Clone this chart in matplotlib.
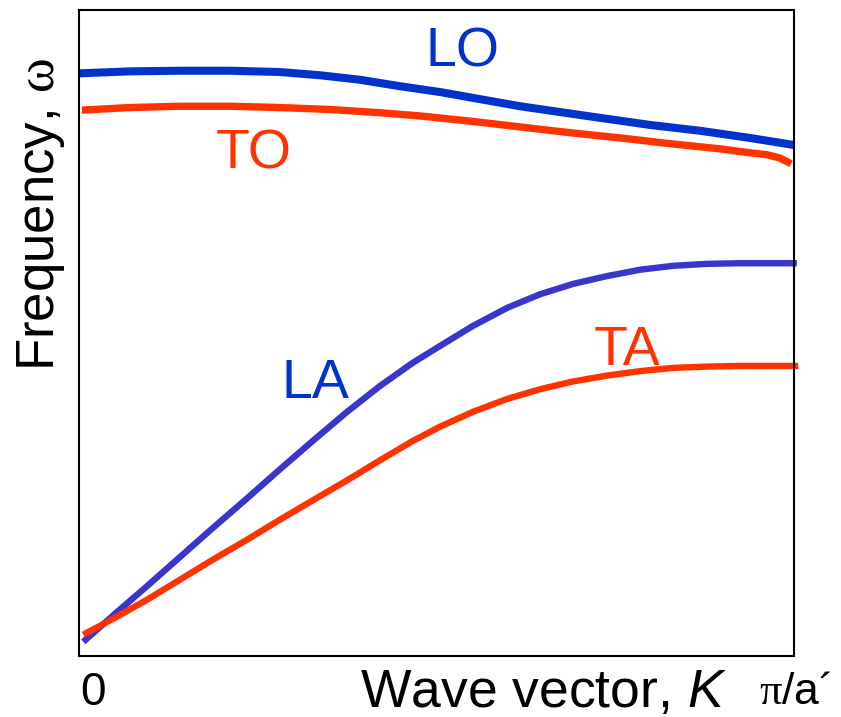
import matplotlib
matplotlib.use("Agg")
import matplotlib.pyplot as plt

plt.rcParams["font.family"] = ["Liberation Sans", "DejaVu Sans"]
plt.rcParams["mathtext.fontset"] = "custom"
plt.rcParams["mathtext.rm"] = "Liberation Serif"
plt.rcParams["mathtext.it"] = "Liberation Sans:italic"

# Wave vector K as a fraction of the zone boundary pi/a', frequency in relative units
k_lo = [0.001, 0.071, 0.141, 0.211, 0.281, 0.337, 0.393, 0.449, 0.505, 0.561,
        0.617, 0.673, 0.729, 0.799, 0.869, 0.938, 1.000]
w_lo = [0.902, 0.905, 0.906, 0.906, 0.904, 0.899, 0.892, 0.882, 0.873, 0.862,
        0.851, 0.842, 0.833, 0.822, 0.813, 0.802, 0.791]

k_to = [0.004, 0.071, 0.141, 0.211, 0.281, 0.351, 0.421, 0.477, 0.547, 0.617,
        0.687, 0.757, 0.827, 0.897, 0.938, 0.962, 0.980, 0.996]
w_to = [0.845, 0.849, 0.851, 0.851, 0.849, 0.846, 0.841, 0.836, 0.828, 0.819,
        0.810, 0.802, 0.793, 0.785, 0.779, 0.776, 0.771, 0.762]

k_la = [0.006, 0.050, 0.095, 0.141, 0.187, 0.235, 0.281, 0.327, 0.375, 0.421,
        0.467, 0.505, 0.551, 0.599, 0.645, 0.691, 0.738, 0.785, 0.831, 0.878,
        0.924, 1.004]
w_la = [0.022, 0.065, 0.108, 0.153, 0.198, 0.244, 0.289, 0.333, 0.378, 0.418,
        0.454, 0.480, 0.511, 0.539, 0.560, 0.576, 0.588, 0.598, 0.604, 0.607,
        0.608, 0.608]

k_ta = [0.006, 0.050, 0.095, 0.141, 0.187, 0.235, 0.281, 0.327, 0.375, 0.421,
        0.467, 0.505, 0.551, 0.599, 0.645, 0.691, 0.738, 0.785, 0.831, 0.878,
        0.924, 1.006]
w_ta = [0.033, 0.059, 0.087, 0.118, 0.149, 0.180, 0.211, 0.241, 0.272, 0.303,
        0.333, 0.355, 0.378, 0.398, 0.413, 0.425, 0.434, 0.441, 0.446, 0.448,
        0.449, 0.449]

branch_names = ["LO", "TO", "LA", "TA"]

BLUE_DARK = "#0033cc"
BLUE_LA = "#3a35cc"
RED = "#ff3300"

fig = plt.figure(figsize=(8.41, 7.17), dpi=100)
ax = fig.add_axes([79 / 841, 61 / 717, 715 / 841, 646 / 717])
ax.set_xlim(0, 1)
ax.set_ylim(0, 1)
ax.set_xticks([])
ax.set_yticks([])
for sp in ax.spines.values():
    sp.set_linewidth(1.5)
    sp.set_color("black")

ax.plot(k_lo, w_lo, color=BLUE_DARK, lw=5.8, solid_capstyle="butt",
        solid_joinstyle="round", clip_on=False)
ax.plot(k_to, w_to, color=RED, lw=5.3, solid_capstyle="butt",
        solid_joinstyle="round", clip_on=False)
ax.plot(k_la, w_la, color=BLUE_LA, lw=4.6, solid_capstyle="butt",
        solid_joinstyle="round", clip_on=False)
ax.plot(k_ta, w_ta, color=RED, lw=4.6, solid_capstyle="butt",
        solid_joinstyle="round", clip_on=False)

# branch labels
label_pos = {"LO": (0.537, 0.912, BLUE_DARK),
             "TO": (0.245, 0.755, RED),
             "LA": (0.330, 0.399, BLUE_DARK),
             "TA": (0.766, 0.450, RED)}
for name in branch_names:
    x, y, c = label_pos[name]
    ax.text(x, y, name, color=c, fontsize=40, ha="center", va="baseline")

# axis titles and end-point labels
fig.text(543.5 / 841, 10 / 717, r"Wave vector, $\mathit{K}$", fontsize=38.5,
         ha="center", va="baseline")
fig.text(93 / 841, 12 / 717, "0", fontsize=33, ha="center", va="baseline")
fig.text(759 / 841, 13 / 717, r"$\mathrm{\pi}$/a´", fontsize=32, ha="left", va="baseline")
fig.text(41 / 841, 1 - 214 / 717, r"Frequency, $\mathrm{\omega}$", fontsize=38,
         rotation=90, ha="center", va="center")

fig.savefig("out.png", dpi=100)
